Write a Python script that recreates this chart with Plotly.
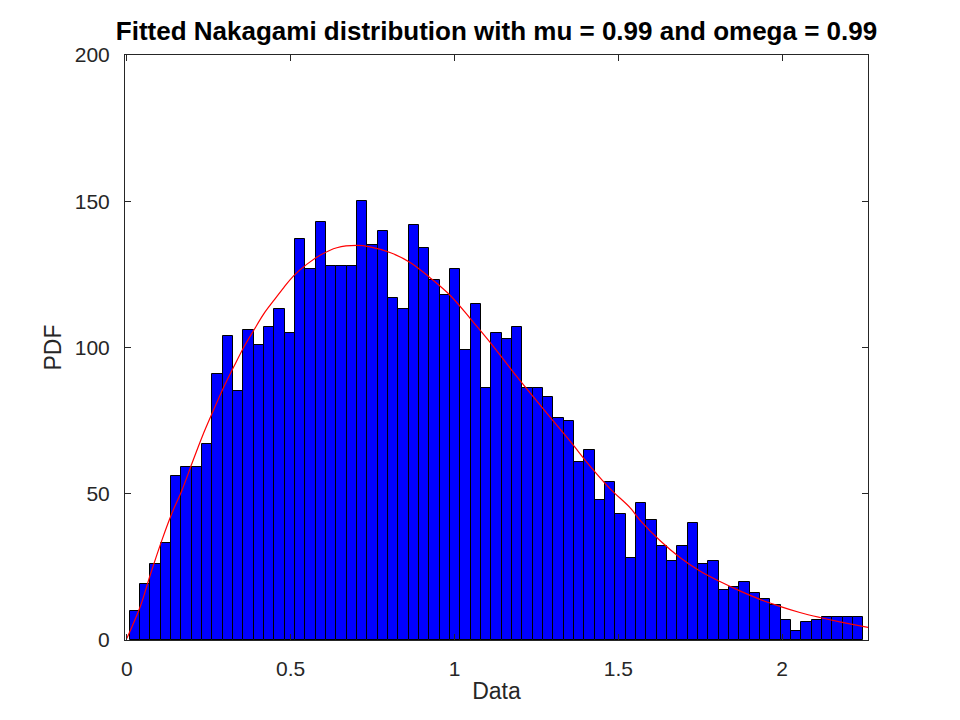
import plotly.graph_objects as go

# histogram of the data (71 bins), counts
bin_start = 0.0091
bin_width = 0.03153
counts = [10, 19, 26, 33, 56, 59, 59, 67, 91, 104,
          85, 106, 101, 107, 113, 105, 137, 127, 143, 128,
          128, 128, 150, 135, 140, 117, 113, 142, 134, 123,
          118, 127, 99, 115, 86, 105, 103, 107, 86, 86,
          83, 76, 75, 61, 65, 48, 54, 43, 28, 47,
          41, 32, 27, 32, 40, 26, 27, 17, 18, 20,
          16, 14, 12, 7, 3, 6, 7, 8, 8, 8, 8]

# fitted Nakagami curve (scaled to counts)
curve_x = [0.0, 0.042, 0.072, 0.108, 0.138, 0.169, 0.199, 0.230, 0.260, 0.296,
           0.326, 0.357, 0.387, 0.418, 0.448, 0.479, 0.509, 0.550, 0.591, 0.641,
           0.702, 0.742, 0.805, 0.866, 0.927, 0.988, 1.049, 1.110, 1.171, 1.232,
           1.293, 1.354, 1.415, 1.476, 1.537, 1.566, 1.627, 1.688, 1.749, 1.810,
           1.871, 1.932, 1.993, 2.054, 2.115, 2.176, 2.262]
curve_y = [0.5, 11.7, 22.4, 34.4, 43.4, 51.4, 60.4, 69.5, 77.4, 86.5,
           93.3, 100.1, 105.8, 111.5, 116.0, 120.5, 124.5, 128.5, 131.6, 134.1,
           134.9, 134.4, 132.4, 129.0, 123.7, 117.7, 109.8, 101.6, 92.8, 84.3,
           76.0, 67.8, 59.3, 51.6, 45.1, 41.0, 34.0, 28.2, 23.6, 20.0,
           16.8, 13.9, 11.5, 9.4, 7.7, 6.2, 4.3]

y_ticks = [0, 50, 100, 150, 200]
x_ticks = [0, 0.5, 1, 1.5, 2]
x_labels = ['0', '0.5', '1', '1.5', '2']

centers = [bin_start + bin_width * (i + 0.5) for i in range(len(counts))]

fig = go.Figure()
fig.add_trace(go.Bar(
    x=centers, y=counts, width=bin_width,
    marker=dict(color='#0000ff', line=dict(color='black', width=1)),
    showlegend=False))
fig.add_trace(go.Scatter(
    x=curve_x, y=curve_y, mode='lines',
    line=dict(color='#ff0000', width=1.2, shape='spline'),
    showlegend=False))

axis_common = dict(
    showgrid=False, zeroline=False, showline=True, mirror='ticks',
    linecolor='#262626', linewidth=1, ticks='inside', ticklen=6,
    tickcolor='#262626', tickfont=dict(size=21, color='#262626'))

# the page body adds an 8px offset, so margins are shifted to compensate
fig.update_layout(
    width=960, height=720,
    paper_bgcolor='white', plot_bgcolor='white',
    font=dict(family='Liberation Sans, Arial, sans-serif', color='#262626'),
    margin=dict(l=117, r=100, t=47, b=88),
    bargap=0,
    title=dict(text='<b>Fitted Nakagami distribution with mu = 0.99 and omega = 0.99</b>',
               x=0.5, xref='paper', xanchor='center',
               y=0.968, yanchor='middle',
               font=dict(size=26, color='black')),
    xaxis=dict(range=[-0.0055, 2.262], tickvals=x_ticks, ticktext=x_labels,
               ticklabelstandoff=10,
               title=dict(text='Data', font=dict(size=23), standoff=3),
               **axis_common),
    yaxis=dict(range=[0, 200], tickvals=y_ticks,
               ticklabelstandoff=10,
               title=dict(text='PDF', font=dict(size=23), standoff=6),
               **axis_common),
)

fig.write_html("out.html")
